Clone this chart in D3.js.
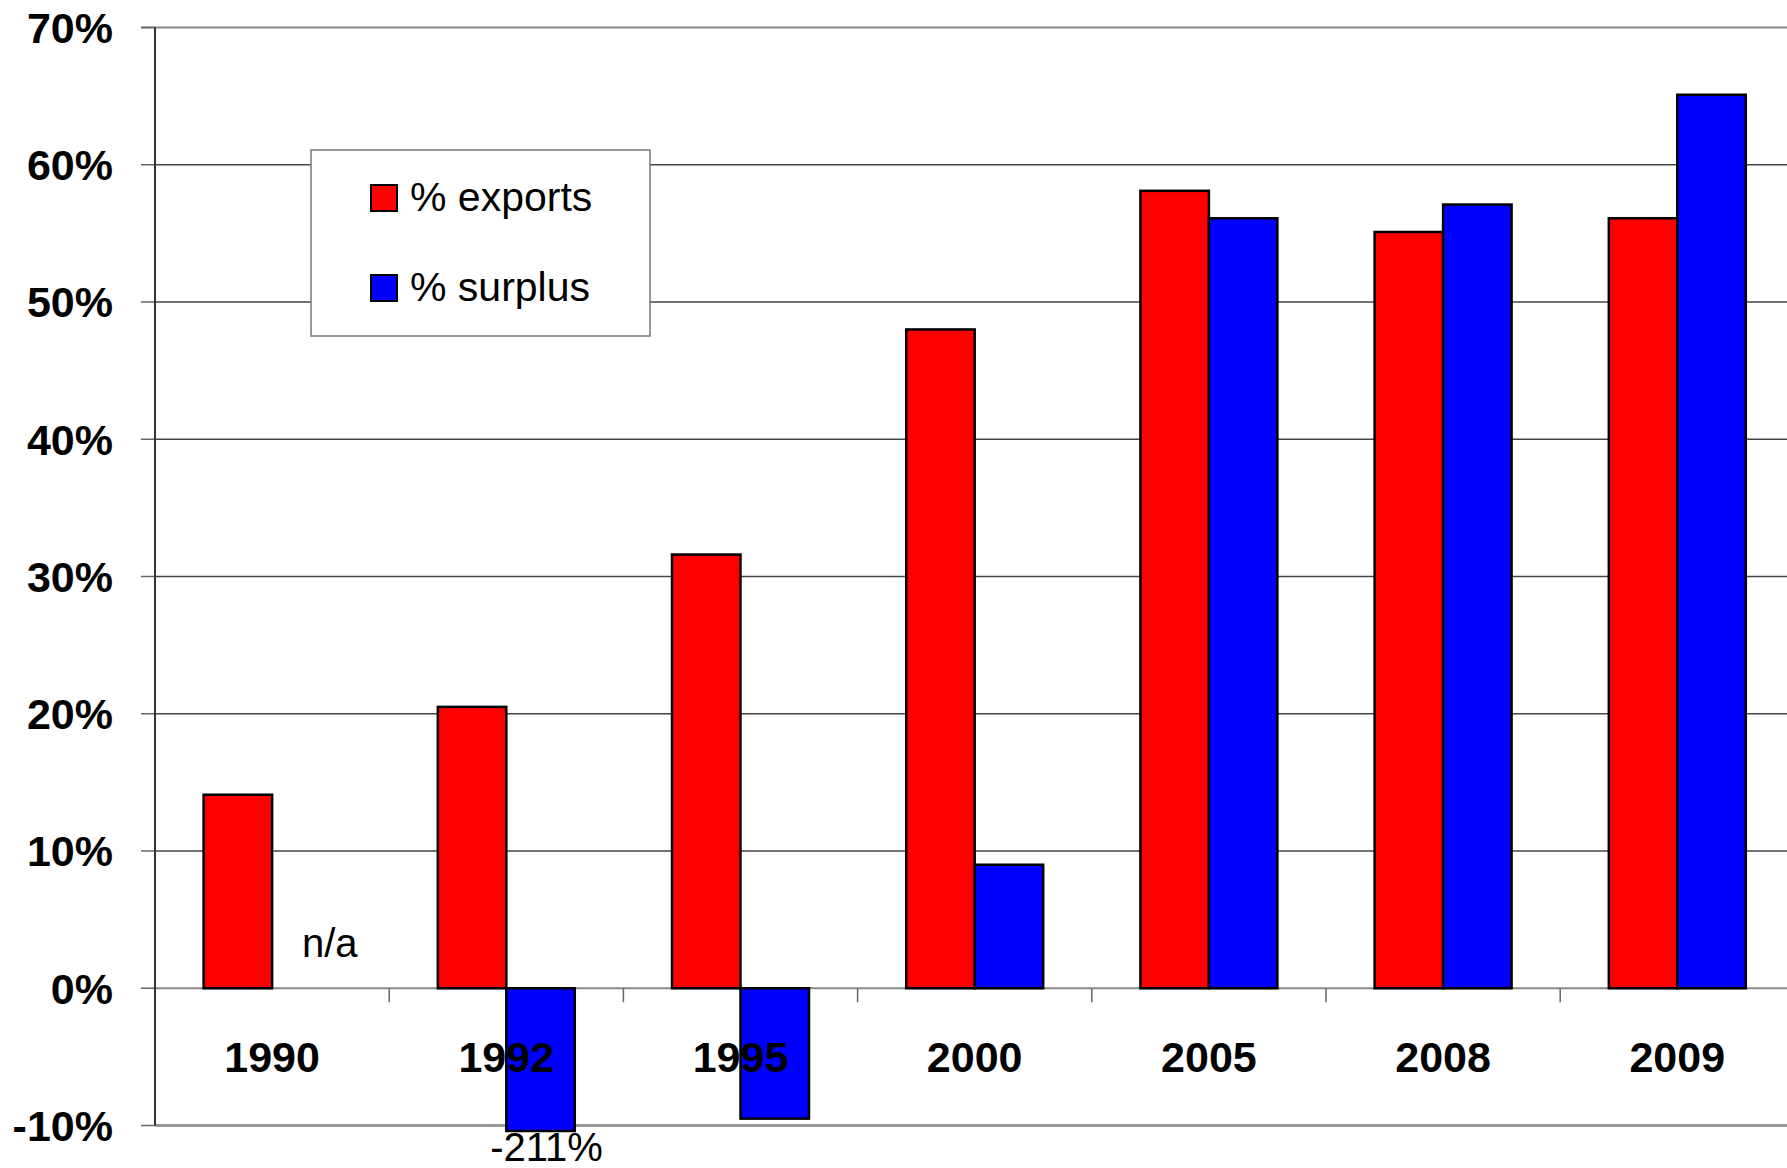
<!DOCTYPE html>
<html>
<head>
<meta charset="utf-8">
<script src="https://cdn.jsdelivr.net/npm/d3@7"></script>
<style>
html,body{margin:0;padding:0;background:#fff;overflow:hidden;}
svg{display:block;}
text{font-family:"Liberation Sans",Arial,Helvetica,sans-serif;}
</style>
</head>
<body>
<svg id="chart" width="1787" height="1168"></svg>
<script>
const categories = ["1990","1992","1995","2000","2005","2008","2009"];
const seriesNames = ["% exports","% surplus"];
const exportsPct = [14.1, 20.5, 31.6, 48.0, 58.1, 55.1, 56.1];
const surplusPct = [null, -211, -9.5, 9.0, 56.1, 57.1, 65.1];
const seriesColors = ["#ff0000","#0000ff"];
const yTicks = [-10,0,10,20,30,40,50,60,70];
const yTickLabels = ["-10%","0%","10%","20%","30%","40%","50%","60%","70%"];

(function(){
const svg = d3.select("#chart");
const mLeft = 155, mTop = 27.5, mBottom = 1125.5, band = 234.2;
const mRight = mLeft + band * categories.length;

const x = d3.scaleBand().domain(categories).range([mLeft, mRight]).paddingInner(0).paddingOuter(0);
const inner = d3.scaleBand().domain(seriesNames).range([0, band]).paddingOuter(0.71).paddingInner(0);
const y = d3.scaleLinear().domain([-10, 70]).range([mBottom, mTop]);
const clipMin = -10.4;

// gridlines
svg.append("g").selectAll("line").data(yTicks.filter(t => t !== 0 && t !== -10 && t !== 70))
  .join("line")
  .attr("x1", mLeft).attr("x2", 1787)
  .attr("y1", d => y(d)).attr("y2", d => y(d))
  .attr("stroke", "#444").attr("stroke-width", 1.5);
svg.append("line").attr("x1", mLeft - 14).attr("x2", 1787).attr("y1", y(70)).attr("y2", y(70))
  .attr("stroke", "#888").attr("stroke-width", 2);

// left axis tick marks
svg.append("g").selectAll("line").data(yTicks).join("line")
  .attr("x1", mLeft - 14).attr("x2", mLeft)
  .attr("y1", d => y(d)).attr("y2", d => y(d))
  .attr("stroke", "#666").attr("stroke-width", 1.5);

// y labels
svg.append("g").selectAll("text").data(yTicks).join("text")
  .attr("x", 113).attr("y", d => y(d)).attr("dy", "0.36em")
  .attr("text-anchor", "end").attr("font-weight", "bold").attr("font-size", 43)
  .attr("fill", "#000")
  .text((d, i) => yTickLabels[i]);

// bottom axis line at -10%
svg.append("line").attr("x1", mLeft).attr("x2", 1787).attr("y1", y(-10)).attr("y2", y(-10))
  .attr("stroke", "#999").attr("stroke-width", 3);

// zero line
svg.append("line").attr("x1", mLeft).attr("x2", 1787).attr("y1", y(0)).attr("y2", y(0))
  .attr("stroke", "#888").attr("stroke-width", 2);
svg.append("g").selectAll("line").data(categories.slice(1)).join("line")
  .attr("x1", d => x(d)).attr("x2", d => x(d))
  .attr("y1", y(0)).attr("y2", y(0) + 14)
  .attr("stroke", "#666").attr("stroke-width", 1.5);

// left axis
svg.append("line").attr("x1", mLeft).attr("x2", mLeft).attr("y1", y(70)).attr("y2", y(-10))
  .attr("stroke", "#333").attr("stroke-width", 2);

// bars
const barData = [];
categories.forEach((c, i) => {
  [exportsPct[i], surplusPct[i]].forEach((v, s) => {
    if (v !== null) barData.push({c, s, v});
  });
});
svg.append("g").selectAll("rect").data(barData).join("rect")
  .attr("x", d => x(d.c) + inner(seriesNames[d.s]))
  .attr("width", inner.bandwidth())
  .attr("y", d => y(Math.max(d.v, 0)))
  .attr("height", d => Math.abs(y(Math.max(d.v, clipMin)) - y(0)))
  .attr("fill", d => seriesColors[d.s])
  .attr("stroke", "#000").attr("stroke-width", 2.5);

// category labels (drawn over bars)
svg.append("g").selectAll("text").data(categories).join("text")
  .attr("x", d => x(d) + band / 2).attr("y", 1072)
  .attr("text-anchor", "middle").attr("font-weight", "bold").attr("font-size", 43)
  .attr("fill", "#000").text(d => d);

// annotations
svg.append("text").attr("x", x("1990") + 147).attr("y", 957)
  .attr("font-size", 40).attr("fill", "#000").text("n/a");
svg.append("text")
  .attr("x", x("1992") + inner(seriesNames[1]) + inner.bandwidth() / 2 + 6)
  .attr("y", 1161).attr("text-anchor", "middle")
  .attr("font-size", 40).attr("fill", "#000").text("-211%");

// legend
const lg = svg.append("g");
lg.append("rect").attr("x", 311).attr("y", 150).attr("width", 339).attr("height", 186)
  .attr("fill", "#fff").attr("stroke", "#777").attr("stroke-width", 1.5);
seriesNames.forEach((n, i) => {
  lg.append("rect").attr("x", 371).attr("y", 185 + i * 90).attr("width", 26).attr("height", 26)
    .attr("fill", seriesColors[i]).attr("stroke", "#000").attr("stroke-width", 2);
  lg.append("text").attr("x", 410).attr("y", 211 + i * 90)
    .attr("font-size", 41).attr("fill", "#000").text(n);
});
})();
</script>
</body>
</html>
